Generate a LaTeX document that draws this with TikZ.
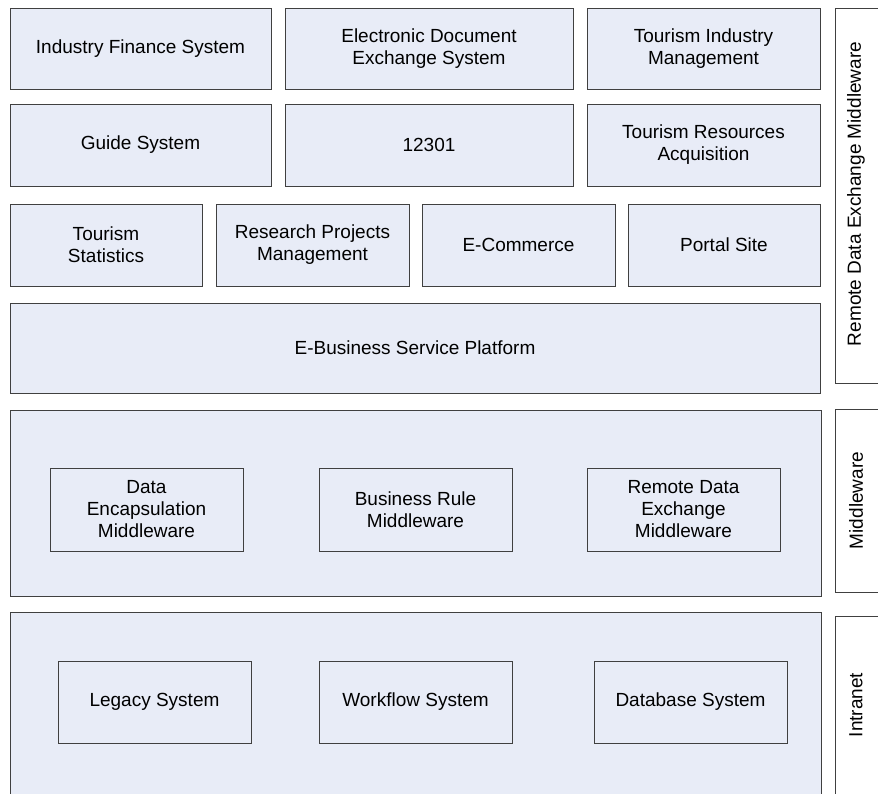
\documentclass[tikz,border=0pt]{standalone}
\usepackage{fontspec}
\setmainfont{Liberation Sans}
\definecolor{boxfill}{RGB}{232,236,247}
\definecolor{boxline}{RGB}{64,64,64}
\begin{document}
\begin{tikzpicture}[x=1pt,y=-1pt,
  every node/.style={font=\fontsize{19pt}{22pt}\selectfont, text=black},
  blk/.style={draw=boxline, line width=0.9pt, fill=boxfill, inner sep=0pt, align=center},
  side/.style={draw=boxline, line width=0.9pt, fill=white, inner sep=0pt},
  vlabel/.style={rotate=90, inner sep=0pt}]
\useasboundingbox (0,0) rectangle (878,794);
\clip (0,0) rectangle (878,794);
% row 1
\node[blk, minimum width=261pt, minimum height=81pt] (ifs) at (140.5,48.5) {Industry Finance System};
\node[blk, minimum width=288pt, minimum height=81pt] (eds) at (429,48.5) {Electronic Document\\Exchange System};
\node[blk, minimum width=233pt, minimum height=81pt] (tim) at (703.5,48.5) {Tourism Industry\\Management};
% row 2
\node[blk, minimum width=261pt, minimum height=82pt] (gs) at (140.5,145) {Guide System};
\node[blk, minimum width=288pt, minimum height=82pt] (n12301) at (429,145) {12301};
\node[blk, minimum width=233pt, minimum height=82pt] (tra) at (703.5,145) {Tourism Resources\\Acquisition};
% row 3
\node[blk, minimum width=192pt, minimum height=82pt] (ts) at (106,245) {Tourism\\Statistics};
\node[blk, minimum width=193pt, minimum height=82pt] (rpm) at (312.5,245) {Research Projects\\Management};
\node[blk, minimum width=193pt, minimum height=82pt] (ec) at (518.5,245) {E-Commerce};
\node[blk, minimum width=192pt, minimum height=82pt] (ps) at (724,245) {Portal Site};
% platform
\node[blk, minimum width=810pt, minimum height=90pt] (ebsp) at (415,348) {E-Business Service Platform};
% middleware layer
\node[blk, minimum width=811pt, minimum height=186pt] (mid) at (415.5,503) {};
\node[blk, minimum width=193pt, minimum height=83pt] (dem) at (146.5,509.5) {Data\\Encapsulation\\Middleware};
\node[blk, minimum width=193pt, minimum height=83pt] (brm) at (415.5,509.5) {Business Rule\\Middleware};
\node[blk, minimum width=193pt, minimum height=83pt] (rdem) at (683.5,509.5) {Remote Data\\Exchange\\Middleware};
% intranet layer
\node[blk, minimum width=811pt, minimum height=188pt] (intra) at (415.5,706) {};
\node[blk, minimum width=193pt, minimum height=82pt] (ls) at (154.5,702) {Legacy System};
\node[blk, minimum width=193pt, minimum height=82pt] (wfs) at (415.5,702) {Workflow System};
\node[blk, minimum width=193pt, minimum height=82pt] (dbs) at (690.5,702) {Database System};
% side labels
\node[side, minimum width=55pt, minimum height=375pt] (sa) at (862.5,195.5) {};
\node[side, minimum width=55pt, minimum height=183pt] (sb) at (862.5,500.5) {};
\node[side, minimum width=55pt, minimum height=184pt] (sc) at (862.5,708) {};
\node[vlabel] (sat) at (856,194) {Remote Data Exchange Middleware};
\node[vlabel] (sbt) at (856,500.5) {Middleware};
\node[vlabel] (sct) at (856,705) {Intranet};
\end{tikzpicture}
\end{document}
